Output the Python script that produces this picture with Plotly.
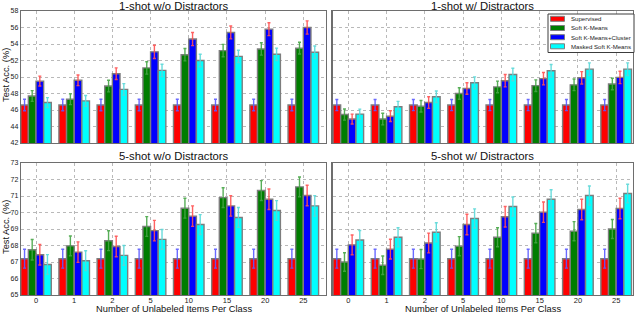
import plotly.graph_objects as go

categories = ["0", "1", "2", "5", "10", "15", "20", "25"]
methods = ["Supervised", "Soft K-Means", "Soft K-Means+Cluster", "Masked Soft K-Means"]
panel_titles = ["1-shot w/o Distractors", "1-shot w/ Distractors",
                "5-shot w/o Distractors", "5-shot w/ Distractors"]

# 1-shot w/o distractors
s1_wo_sup = [46.6, 46.6, 46.6, 46.6, 46.6, 46.6, 46.6, 46.6]
s1_wo_skm = [47.7, 47.3, 48.9, 51.1, 52.7, 53.2, 53.4, 53.5]
s1_wo_skmc = [49.5, 49.6, 50.4, 53.05, 54.6, 55.4, 55.8, 56.0]
s1_wo_mskm = [46.9, 47.1, 48.5, 50.8, 52.0, 52.5, 52.75, 53.0]
s1_wo_sup_err = [0.7] * 8
s1_wo_skm_err = [0.65, 0.65, 0.7, 0.75, 0.75, 0.75, 0.75, 0.72]
s1_wo_skmc_err = [0.6, 0.65, 0.7, 0.8, 0.8, 0.78, 0.78, 0.8]
s1_wo_mskm_err = [0.6, 0.65, 0.7, 0.75, 0.75, 0.75, 0.75, 0.76]

# 1-shot w/ distractors
s1_w_sup = [46.6, 46.6, 46.6, 46.6, 46.6, 46.6, 46.6, 46.6]
s1_w_skm = [45.45, 44.9, 46.45, 48.0, 48.8, 48.95, 49.05, 49.15]
s1_w_skmc = [44.9, 45.25, 46.9, 48.6, 49.55, 49.8, 49.9, 49.95]
s1_w_mskm = [45.5, 46.4, 47.6, 49.3, 50.3, 50.75, 50.95, 50.95]
s1_w_sup_err = [0.68] * 8
s1_w_skm_err = [0.68, 0.7, 0.7, 0.7, 0.7, 0.7, 0.7, 0.7]
s1_w_skmc_err = [0.6, 0.65, 0.7, 0.7, 0.75, 0.75, 0.75, 0.75]
s1_w_mskm_err = [0.6, 0.65, 0.7, 0.72, 0.76, 0.76, 0.76, 0.76]

# 5-shot w/o distractors
s5_wo_sup = [67.2, 67.2, 67.2, 67.2, 67.2, 67.2, 67.2, 67.2]
s5_wo_skm = [67.74, 67.98, 68.29, 69.15, 70.26, 70.9, 71.33, 71.55]
s5_wo_skmc = [67.44, 67.6, 67.94, 68.9, 69.78, 70.4, 70.8, 71.03]
s5_wo_mskm = [66.85, 67.08, 67.4, 68.37, 69.27, 69.7, 70.12, 70.4]
s5_wo_sup_err = [0.57] * 8
s5_wo_skm_err = [0.62, 0.6, 0.6, 0.6, 0.6, 0.6, 0.6, 0.6]
s5_wo_skmc_err = [0.62, 0.62, 0.62, 0.62, 0.62, 0.62, 0.62, 0.62]
s5_wo_mskm_err = [0.6, 0.6, 0.6, 0.6, 0.6, 0.6, 0.6, 0.62]

# 5-shot w/ distractors
s5_w_sup = [67.2, 67.2, 67.2, 67.2, 67.2, 67.2, 67.2, 67.2]
s5_w_skm = [67.0, 66.8, 67.18, 67.96, 68.5, 68.75, 68.87, 69.0]
s5_w_skmc = [68.04, 67.78, 68.15, 69.27, 69.74, 70.02, 70.18, 70.24]
s5_w_mskm = [68.33, 68.5, 68.8, 69.64, 70.36, 70.8, 71.03, 71.15]
s5_w_sup_err = [0.57] * 8
s5_w_skm_err = [0.56, 0.56, 0.58, 0.58, 0.58, 0.58, 0.58, 0.58]
s5_w_skmc_err = [0.6, 0.6, 0.6, 0.62, 0.62, 0.62, 0.62, 0.62]
s5_w_mskm_err = [0.58, 0.58, 0.58, 0.58, 0.58, 0.58, 0.58, 0.56]

panels = [
    ([s1_wo_sup, s1_wo_skm, s1_wo_skmc, s1_wo_mskm],
     [s1_wo_sup_err, s1_wo_skm_err, s1_wo_skmc_err, s1_wo_mskm_err]),
    ([s1_w_sup, s1_w_skm, s1_w_skmc, s1_w_mskm],
     [s1_w_sup_err, s1_w_skm_err, s1_w_skmc_err, s1_w_mskm_err]),
    ([s5_wo_sup, s5_wo_skm, s5_wo_skmc, s5_wo_mskm],
     [s5_wo_sup_err, s5_wo_skm_err, s5_wo_skmc_err, s5_wo_mskm_err]),
    ([s5_w_sup, s5_w_skm, s5_w_skmc, s5_w_mskm],
     [s5_w_sup_err, s5_w_skm_err, s5_w_skmc_err, s5_w_mskm_err]),
]

bar_colors = ["rgb(255,0,0)", "rgb(0,125,0)", "rgb(0,0,255)", "rgb(0,255,255)"]
err_colors = ["rgba(90,90,255,0.9)", "rgba(70,165,70,0.9)",
              "rgba(255,80,80,0.9)", "rgba(90,215,215,0.9)"]
edge_color = "rgb(125,125,125)"

W, H = 640, 333
def fx(px):
    return px / W
def fy(py):
    return 1 - py / H

x_doms = [[fx(21), fx(326)], [fx(332.5), fx(633)]]
y_doms = [[fy(143), fy(11)], [fy(295), fy(163)]]
x_ranges = [[-0.393, 7.594], [-0.413, 7.44]]

fig = go.Figure()
FONT = "Liberation Sans, Arial, sans-serif"

for p, (vals, errs) in enumerate(panels):
    row, col = divmod(p, 2)
    ax = p + 1
    xname = "x" if ax == 1 else f"x{ax}"
    yname = "y" if ax == 1 else f"y{ax}"
    for m in range(4):
        fig.add_trace(go.Bar(
            x=categories, y=vals[m], name=methods[m],
            marker=dict(color=bar_colors[m], line=dict(color=edge_color, width=1.4)),
            error_y=dict(type="data", array=errs[m], visible=True,
                         color=err_colors[m], thickness=1.4, width=1.5),
            xaxis=xname, yaxis=yname, showlegend=False, hoverinfo="skip",
        ))
    xa = dict(domain=x_doms[col], type="category", range=x_ranges[col],
              showline=True, mirror=True, linecolor="rgb(110,110,110)", linewidth=1.3,
              showgrid=True, gridcolor="rgb(185,185,185)", griddash="dot", gridwidth=1,
              ticks="", showticklabels=(row == 1), automargin=False, ticklabelstandoff=-2,
              tickfont=dict(size=7.5, color="#222", family=FONT),
              anchor=yname, zeroline=False)
    if row == 0:
        yr, dt = [42, 58], 2
    else:
        yr, dt = [65, 73], 1
    ya = dict(domain=y_doms[row], range=yr, dtick=dt,
              showline=True, mirror=True, linecolor="rgb(110,110,110)", linewidth=1.3,
              showgrid=True, gridcolor="rgb(185,185,185)", griddash="dot", gridwidth=1,
              ticks="", showticklabels=(col == 0), automargin=False,
              tickfont=dict(size=7, color="#222", family=FONT),
              anchor=xname, zeroline=False)
    fig.layout["xaxis" if ax == 1 else f"xaxis{ax}"] = xa
    fig.layout["yaxis" if ax == 1 else f"yaxis{ax}"] = ya

annotations = []
title_cy = [5.5, 155.5]
for p in range(4):
    row, col = divmod(p, 2)
    cx = (x_doms[col][0] + x_doms[col][1]) / 2
    annotations.append(dict(text=panel_titles[p], x=cx, y=fy(title_cy[row]), xref="paper", yref="paper",
                            xanchor="center", yanchor="middle", showarrow=False,
                            font=dict(size=11.3, color="#111", family=FONT)))
ylabel_cy = [75, 227]
for row in range(2):
    annotations.append(dict(text="Test Acc. (%)", x=fx(6), y=fy(ylabel_cy[row]), xref="paper", yref="paper",
                            xanchor="center", yanchor="middle", textangle=-90, showarrow=False,
                            font=dict(size=9.3, color="#111", family=FONT)))
for col in range(2):
    cx = (x_doms[col][0] + x_doms[col][1]) / 2
    annotations.append(dict(text="Number of Unlabeled Items Per Class", x=cx, y=fy(308.5),
                            xref="paper", yref="paper", xanchor="center", yanchor="middle",
                            showarrow=False, font=dict(size=9.3, color="#111", family=FONT)))

# custom compact legend (top-right panel)
shapes = [dict(type="rect", xref="paper", yref="paper",
               x0=fx(548), x1=fx(634), y0=fy(52.5), y1=fy(14),
               line=dict(color="rgb(60,60,60)", width=1), fillcolor="white", layer="above")]
entry_y = [18.8, 28.0, 37.2, 46.3]
for m in range(4):
    shapes.append(dict(type="rect", xref="paper", yref="paper",
                       x0=fx(550.5), x1=fx(564.5), y0=fy(entry_y[m] + 2.5), y1=fy(entry_y[m] - 2.5),
                       line=dict(color=edge_color, width=1), fillcolor=bar_colors[m], layer="above"))
    annotations.append(dict(text=methods[m], x=fx(568.5), y=fy(entry_y[m]), xref="paper", yref="paper",
                            xanchor="left", yanchor="middle", showarrow=False,
                            font=dict(size=6.1, color="#222", family=FONT)))

fig.update_layout(
    template="none",
    width=W, height=H, margin=dict(l=0, r=0, t=0, b=0, pad=0),
    paper_bgcolor="white", plot_bgcolor="white",
    font=dict(family=FONT),
    barmode="group", bargap=0.2, bargroupgap=0,
    annotations=annotations, shapes=shapes,
    showlegend=False, hovermode=False,
)

fig.write_html(
    "out.html",
    config={"displayModeBar": False, "staticPlot": True},
    post_script="document.body.style.margin='0';document.body.style.padding='0';"
                "document.body.style.overflow='hidden';",
)
